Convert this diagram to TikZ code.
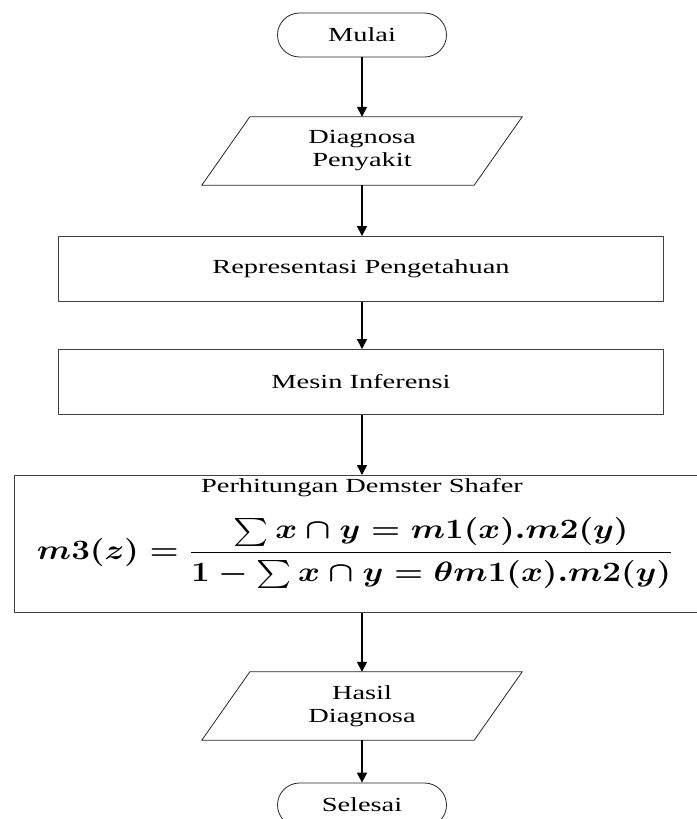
\documentclass[tikz,border=0pt]{standalone}
\usepackage{fontspec}
\setmainfont{Liberation Serif}[FakeStretch=1.42]
\usepackage{amsmath}
\usepackage{graphicx}
\usetikzlibrary{arrows.meta,shapes.misc}
\begin{document}
\begin{tikzpicture}[x=1pt,y=-1pt,
  every node/.style={font=\fontsize{20}{23}\selectfont, inner sep=0pt, align=center},
  term/.style={rounded rectangle, draw=black!85, line width=0.8pt, minimum width=169pt, minimum height=44pt},
  iobox/.style={minimum width=272pt, minimum height=68pt},
  procbox/.style={rectangle, draw=black!75, line width=0.9pt, minimum width=605pt, minimum height=65pt},
  para/.style={draw=black!85, line width=0.8pt},
  flow/.style={line width=1.6pt, -{Triangle[length=10pt,width=10pt]}}
]
\useasboundingbox (0,0) rectangle (696,819);
\fill[white] (0,0) rectangle (696,819);

\node[term] (start) at (362,35) {Mulai};

\node[iobox] (in1) at (362,151) {Diagnosa\\Penyakit};
\draw[para] ([xshift=24pt]in1.north west) -- ([xshift=24pt]in1.north east)
  -- ([xshift=-24pt]in1.south east) -- ([xshift=-24pt]in1.south west) -- cycle;

\node[procbox] (rep) at (361,269) {Representasi Pengetahuan};
\node[procbox] (mesin) at (361,382) {Mesin Inferensi};

\node[rectangle, draw=black!75, line width=0.9pt, minimum width=700pt, minimum height=137pt,
  anchor=north west] (hitung) at (14,475) {};
\node (title) at (362,488) {Perhitungan Demster Shafer};
\node (formula) at (355,553) {\resizebox*{636pt}{70pt}{\boldmath$\displaystyle m3(z)=\frac{\sum x\cap y=m1(x).m2(y)}{1-\sum x\cap y=\theta m1(x).m2(y)}$}};

\node[iobox] (out) at (362,706) {Hasil\\Diagnosa};
\draw[para] ([xshift=24pt]out.north west) -- ([xshift=24pt]out.north east)
  -- ([xshift=-24pt]out.south east) -- ([xshift=-24pt]out.south west) -- cycle;

\node[term] (end) at (362,805) {Selesai};

\draw[flow] (start.south) -- (in1.north);
\draw[flow] (in1.south) -- (rep.north -| in1.south);
\draw[flow] (rep.south -| in1.south) -- (mesin.north -| in1.south);
\draw[flow] (mesin.south -| in1.south) -- (hitung.north -| in1.south);
\draw[flow] (hitung.south -| in1.south) -- (out.north);
\draw[flow] (out.south) -- (end.north);
\end{tikzpicture}
\end{document}
